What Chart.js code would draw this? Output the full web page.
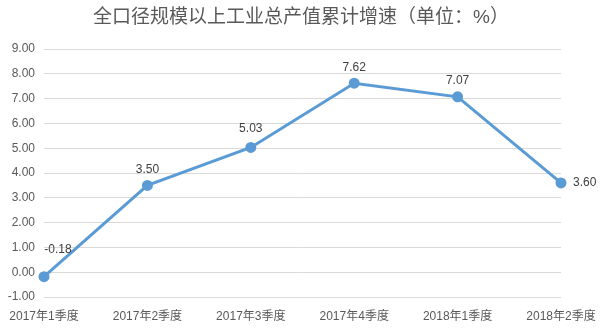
<!DOCTYPE html>
<html>
<head>
<meta charset="utf-8">
<script src="https://cdn.jsdelivr.net/npm/chart.js@4/dist/chart.umd.min.js"></script>
<style>
  html, body { margin: 0; padding: 0; background: #fff; }
  #wrap { width: 602px; height: 329px; position: relative; }
</style>
</head>
<body>
<div id="wrap"><canvas id="c" width="602" height="329"></canvas></div>
<script>
const chartTitle = '全口径规模以上工业总产值累计增速（单位：%）';
const quarters = ['2017年1季度', '2017年2季度', '2017年3季度', '2017年4季度', '2018年1季度', '2018年2季度'];
const growth = [-0.18, 3.50, 5.03, 7.62, 7.07, 3.60];
const yMin = -1;
const yMax = 9;
const yStep = 1;

const FONT = "'Liberation Sans', 'Noto Sans CJK SC', sans-serif";

// Title drawn centred across the canvas
const titlePlugin = {
  id: 'topTitle',
  afterDraw(chart) {
    const ctx = chart.ctx;
    ctx.save();
    ctx.font = "19px " + FONT;
    ctx.fillStyle = '#595959';
    ctx.textAlign = 'center';
    ctx.textBaseline = 'middle';
    ctx.fillText(chartTitle, 301, 18);
    ctx.restore();
  }
};

// Value labels next to each point
const valueLabels = {
  id: 'valueLabels',
  afterDatasetsDraw(chart) {
    const ctx = chart.ctx;
    const meta = chart.getDatasetMeta(0);
    ctx.save();
    ctx.font = "12px " + FONT;
    ctx.fillStyle = '#404040';
    ctx.textBaseline = 'middle';
    meta.data.forEach((pt, i) => {
      const text = growth[i].toFixed(2);
      const last = i === meta.data.length - 1;
      if (last) {
        ctx.textAlign = 'left';
        ctx.fillText(text, pt.x + 12, pt.y);
      } else if (i === 0) {
        ctx.textAlign = 'center';
        ctx.fillText(text, pt.x + 14, pt.y - 27);
      } else {
        ctx.textAlign = 'center';
        ctx.fillText(text, pt.x, pt.y - (i === 2 ? 19 : 16));
      }
    });
    ctx.restore();
  }
};

new Chart(document.getElementById('c'), {
  type: 'line',
  data: {
    labels: quarters,
    datasets: [{
      data: growth,
      borderColor: '#5B9BD5',
      backgroundColor: '#5B9BD5',
      borderWidth: 3,
      pointRadius: 4,
      pointHoverRadius: 4,
      pointBackgroundColor: '#5B9BD5',
      pointBorderColor: '#5B9BD5',
      tension: 0,
      clip: false
    }]
  },
  options: {
    responsive: false,
    animation: false,
    devicePixelRatio: 1,
    layout: { padding: { top: 49, right: 41, bottom: 0, left: 0 } },
    plugins: {
      legend: { display: false },
      title: { display: false },
      tooltip: { enabled: false }
    },
    scales: {
      x: {
        offset: false,
        grid: { display: false, drawTicks: false },
        border: { display: false },
        ticks: {
          color: '#595959',
          font: { family: FONT, size: 12 },
          padding: 12,
          maxRotation: 0,
          autoSkip: false
        },
        afterFit(scale) {
          scale.height = 32;
          scale.paddingLeft = 0;
          scale.paddingRight = 0;
        }
      },
      y: {
        min: yMin,
        max: yMax,
        grid: { color: '#D9D9D9', lineWidth: 1, drawTicks: false },
        border: { display: false },
        ticks: {
          stepSize: yStep,
          color: '#595959',
          font: { family: FONT, size: 12 },
          padding: 9,
          callback: v => Number(v).toFixed(2)
        },
        afterFit(scale) { scale.width = 44; }
      }
    }
  },
  plugins: [titlePlugin, valueLabels]
});
</script>
</body>
</html>
